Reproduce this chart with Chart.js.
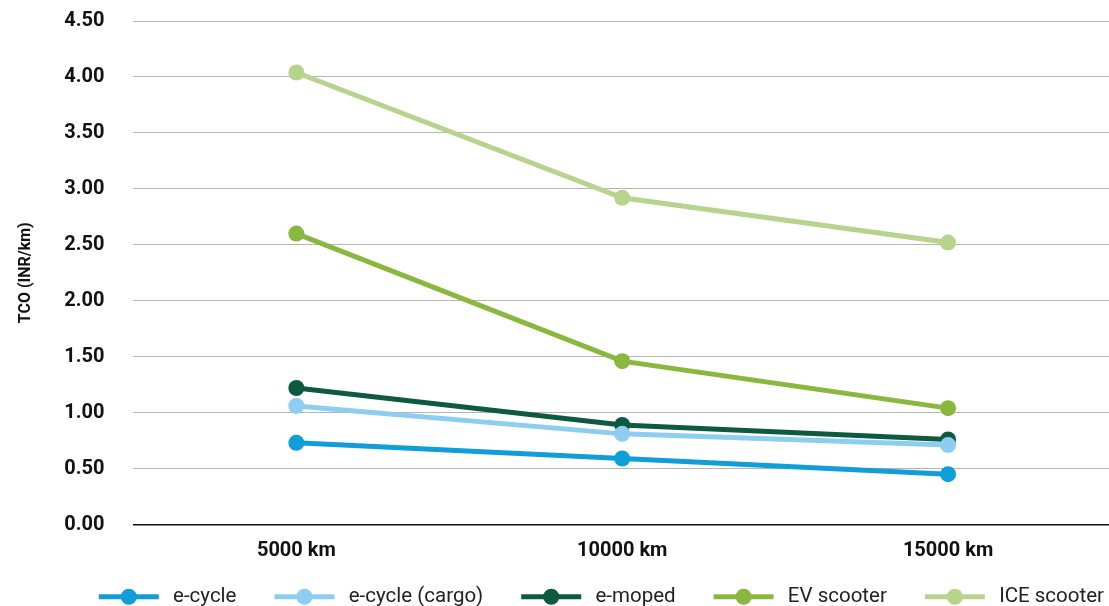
<!DOCTYPE html>
<html>
<head>
<meta charset="utf-8">
<script src="https://cdn.jsdelivr.net/npm/chart.js"></script>
<style>
  html, body { margin: 0; padding: 0; background: #fff; overflow: hidden; }
  /* a bit wider than the window: the plot runs to the right edge */
  #wrap { width: 1119px; height: 606px; }
</style>
</head>
<body>
<div id="wrap"><canvas id="chart"></canvas></div>
<script>
// distances on the x axis
const distances = ['5000 km', '10000 km', '15000 km'];

// TCO per vehicle type (INR/km)
const eCycle      = [0.73, 0.59, 0.45];
const eCycleCargo = [1.06, 0.81, 0.71];
const eMoped      = [1.22, 0.89, 0.76];
const evScooter   = [2.60, 1.46, 1.04];
const iceScooter  = [4.04, 2.92, 2.52];

const seriesNames  = ['e-cycle', 'e-cycle (cargo)', 'e-moped', 'EV scooter', 'ICE scooter'];
const seriesColors = ['#0f9ed9', '#8ccdf1', '#0d5a41', '#8ab83f', '#b7d48d'];
const seriesData   = [eCycle, eCycleCargo, eMoped, evScooter, iceScooter];

const FONT = 'Roboto, "Liberation Sans", sans-serif';
const LEG_GAP = 28; // empty space in front of each legend marker

function makeDatasets() {
    return seriesNames.map((name, i) => ({
        label: name,
        data: seriesData[i],
        borderColor: seriesColors[i],
        backgroundColor: seriesColors[i],
        borderWidth: 5,
        pointRadius: 8,
        pointHoverRadius: 8,
        pointBorderWidth: 0,
        tension: 0
    }));
}

// draw line + dot markers in the legend
const legendMarkers = {
    id: 'legendMarkers',
    afterDraw(chart) {
        const legend = chart.legend;
        if (!legend || !legend.legendHitBoxes) return;
        const ctx = chart.ctx;
        legend.legendHitBoxes.forEach((box, i) => {
            const color = seriesColors[i];
            const x0 = box.left + LEG_GAP;
            const cy = box.top + box.height / 2;
            ctx.save();
            ctx.strokeStyle = color;
            ctx.lineWidth = 5;
            ctx.beginPath();
            ctx.moveTo(x0, cy);
            ctx.lineTo(x0 + 60, cy);
            ctx.stroke();
            ctx.fillStyle = color;
            ctx.beginPath();
            ctx.arc(x0 + 30, cy, 8, 0, Math.PI * 2);
            ctx.fill();
            ctx.restore();
        });
    }
};

const options = {
    type: 'line',
    data: {
        labels: distances,
        datasets: makeDatasets()
    },
    options: {
        responsive: true,
        maintainAspectRatio: false,
        animation: false,
        layout: {
            padding: { top: 0, right: 5, left: 16, bottom: -11 }
        },
        plugins: {
            legend: {
                position: 'bottom',
                align: 'end',
                labels: {
                    boxWidth: LEG_GAP + 64,
                    boxHeight: 12,
                    padding: 10,
                    color: '#222',
                    font: { family: FONT, size: 20.5 },
                    generateLabels(chart) {
                        return chart.data.datasets.map((ds, i) => ({
                            text: ds.label,
                            fillStyle: 'rgba(0,0,0,0)',
                            strokeStyle: 'rgba(0,0,0,0)',
                            lineWidth: 0,
                            fontColor: '#222',
                            datasetIndex: i
                        }));
                    }
                }
            },
            tooltip: { enabled: false }
        },
        scales: {
            x: {
                offset: true,
                grid: { display: false, drawTicks: false },
                border: { display: true, color: '#111', width: 1.5 },
                ticks: {
                    padding: 14,
                    color: '#111',
                    font: { family: FONT, size: 20, weight: 'bold' }
                }
            },
            y: {
                min: 0,
                max: 4.5,
                grid: {
                    drawTicks: true,
                    tickLength: 20,
                    tickColor: 'rgba(0,0,0,0)',
                    color: (c) => c.tick && c.tick.value === 0 ? '#111' : '#b5b5b5',
                    lineWidth: 1
                },
                border: { display: false },
                ticks: {
                    stepSize: 0.5,
                    padding: 9,
                    color: '#111',
                    font: { family: FONT, size: 20, weight: 'bold' },
                    callback: (v) => Number(v).toFixed(2)
                },
                title: {
                    display: true,
                    text: 'TCO (INR/km)',
                    color: '#111',
                    padding: { top: 0, bottom: 20 },
                    font: { family: FONT, size: 16, weight: 'bold' }
                }
            }
        }
    },
    plugins: [legendMarkers]
};

const theChart = new Chart(document.getElementById('chart'), options);
</script>
</body>
</html>
